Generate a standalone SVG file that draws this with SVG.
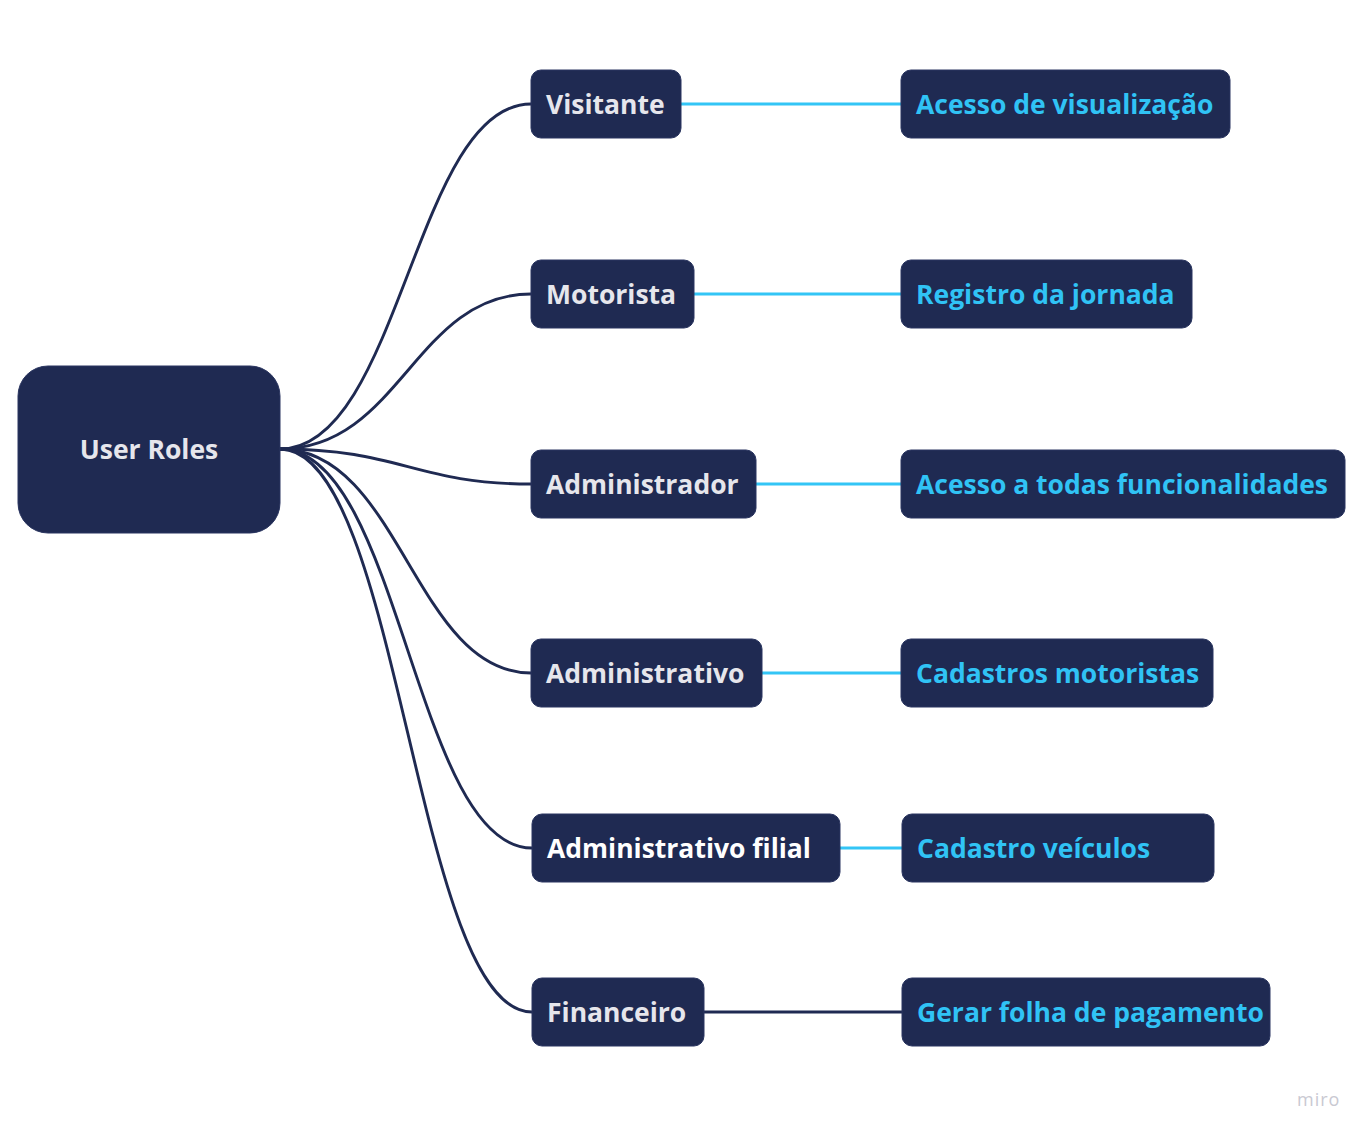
<svg xmlns="http://www.w3.org/2000/svg" width="1372" height="1138" viewBox="0 0 1372 1138">
<style>
.box{fill:#1f2a52;stroke:#2a3560;stroke-width:1}
.lt{font-family:"Open Sans","Noto Sans",sans-serif;font-weight:700;font-size:26.5px;fill:#e6e6ec}
.rt{font-family:"Open Sans","Noto Sans",sans-serif;font-weight:700;font-size:26.5px;fill:#30c3f5}
.curve{fill:none;stroke:#1f2a52;stroke-width:2.9}
.hl{fill:none;stroke:#33c5f6;stroke-width:3}
</style>
<rect width="1372" height="1138" fill="#ffffff"/>
<g id="connectors">
<path class="curve" d="M280,449 C400,449 415,104 531,104"/>
<path class="curve" d="M280,449 C400,449 415,294 531,294"/>
<path class="curve" d="M280,449 C400,449 415,484 531,484"/>
<path class="curve" d="M280,449 C400,449 415,673 531,673"/>
<path class="curve" d="M280,449 C400,449 415,848 532,848"/>
<path class="curve" d="M280,449 C400,449 415,1012 532,1012"/>
<path class="hl" d="M681,104 H901"/>
<path class="hl" d="M694,294 H901"/>
<path class="hl" d="M756,484 H901"/>
<path class="hl" d="M762,673 H901"/>
<path class="hl" d="M840,848 H902"/>
<path class="curve" d="M704,1012 H902"/>
</g>
<g id="root"><rect class="box" x="18" y="366" width="262" height="167" rx="30"/><text class="lt" x="149" y="459" text-anchor="middle">User Roles</text></g>
<g id="visitante"><rect class="box" x="531" y="70" width="150" height="68" rx="10"/><text class="lt" x="546" y="114">Visitante</text></g>
<g id="motorista"><rect class="box" x="531" y="260" width="163" height="68" rx="10"/><text class="lt" x="546" y="304">Motorista</text></g>
<g id="administrador"><rect class="box" x="531" y="450" width="225" height="68" rx="10"/><text class="lt" x="546" y="494">Administrador</text></g>
<g id="administrativo"><rect class="box" x="531" y="639" width="231" height="68" rx="10"/><text class="lt" x="546" y="683">Administrativo</text></g>
<g id="administrativo-filial"><rect class="box" x="532" y="814" width="308" height="68" rx="10"/><text class="lt" x="547" y="858" style="fill:#ffffff">Administrativo filial</text></g>
<g id="financeiro"><rect class="box" x="532" y="978" width="172" height="68" rx="10"/><text class="lt" x="547" y="1022">Financeiro</text></g>
<g id="acesso-visualizacao"><rect class="box" x="901" y="70" width="329" height="68" rx="10"/><text class="rt" x="916" y="114">Acesso de visualização</text></g>
<g id="registro-jornada"><rect class="box" x="901" y="260" width="291" height="68" rx="10"/><text class="rt" x="916" y="304">Registro da jornada</text></g>
<g id="acesso-todas"><rect class="box" x="901" y="450" width="444" height="68" rx="10"/><text class="rt" x="916" y="494">Acesso a todas funcionalidades</text></g>
<g id="cadastros-motoristas"><rect class="box" x="901" y="639" width="312" height="68" rx="10"/><text class="rt" x="916" y="683">Cadastros motoristas</text></g>
<g id="cadastro-veiculos"><rect class="box" x="902" y="814" width="312" height="68" rx="10"/><text class="rt" x="917" y="858">Cadastro veículos</text></g>
<g id="gerar-folha"><rect class="box" x="902" y="978" width="368" height="68" rx="10"/><text class="rt" x="917" y="1022">Gerar folha de pagamento</text></g>
<text x="1297" y="1106" style="font-family:'Open Sans',sans-serif;font-size:18px;fill:#c9c9d2;letter-spacing:1px">miro</text>
</svg>
